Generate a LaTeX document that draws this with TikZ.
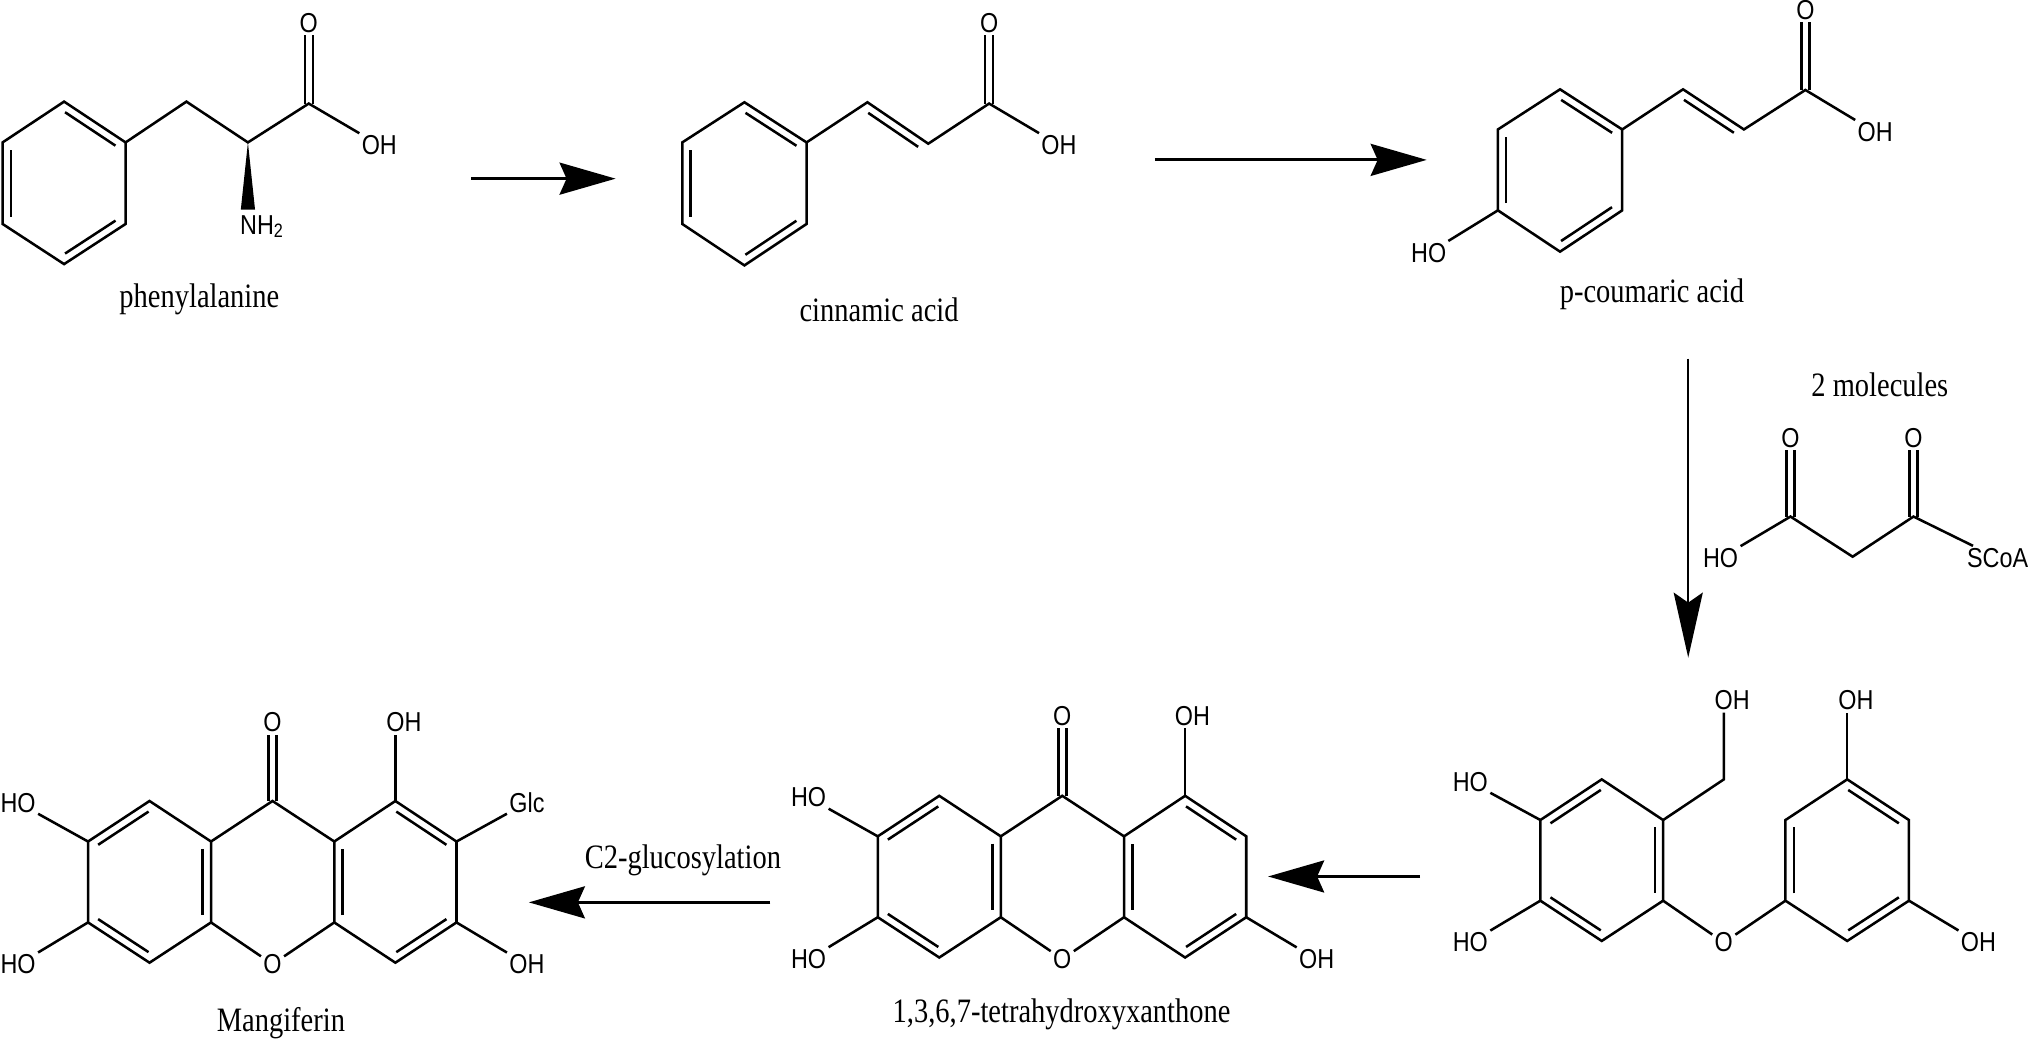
\documentclass[tikz,border=0pt]{standalone}
\usepackage{graphicx}
\usepackage{fontspec}
\setmainfont{Liberation Serif}
\setsansfont{Liberation Sans}
\usetikzlibrary{calc,arrows.meta}
\newcommand{\A}[1]{\scalebox{1}[1.17]{\fontsize{6.65pt}{7pt}\selectfont\sffamily #1}}
\newcommand{\Nsub}{\A{NH}\raisebox{-1.1pt}{\scalebox{1}[1.2]{\fontsize{4.6pt}{5pt}\selectfont\sffamily 2}}}
\newcommand{\T}[1]{\scalebox{1}[1.2]{\fontsize{8.1pt}{9pt}\selectfont\rmfamily #1}}
% inner line of a double bond; #3 is +90 (left of a->b) or -90 (right)
\newcommand{\inner}[3]{\draw[bond] ($(#1)!.09!(#2)!.083cm!#3:(#2)$) -- ($(#2)!.09!(#1)!.083cm!-#3:(#1)$);}
\newcommand{\cdbl}[2]{\draw[bond,transform canvas={xshift=-.04cm}] (#1) -- (#2);\draw[bond,transform canvas={xshift=.04cm}] (#1) -- (#2);}
\newcommand{\hex}[7]{%
  \coordinate (#1a) at (#2,#4);\coordinate (#1b) at (#3,#5);\coordinate (#1c) at (#3,#6);
  \coordinate (#1d) at (#2,#7);\coordinate (#1e) at ({2*#2-#3},#6);\coordinate (#1f) at ({2*#2-#3},#5);
  \draw[bond] (#1a)--(#1b)--(#1c)--(#1d)--(#1e)--(#1f)--cycle;}
\tikzset{
  bond/.style={line width=.72pt,line join=miter,line cap=butt},
  atom/.style={inner sep=.5pt},
  caption/.style={inner sep=0pt},
  rxn/.style={line width=.8pt,-{Stealth[length=.56cm,width=.32cm,inset=.07cm]}},
  rxnlong/.style={line width=.7pt,-{Stealth[length=.65cm,width=.29cm,inset=.1cm]}},
}
\begin{document}
\begin{tikzpicture}[x=.012946cm,y=-.012946cm]
\useasboundingbox (0,0) rectangle (1568,802.6);
\fill[white] (0,0) rectangle (1568,802.6);

% --- phenylalanine
\hex{p}{49.5}{97}{78.5}{110}{173}{204}
\inner{pa}{pb}{-90}\inner{pc}{pd}{-90}\inner{pe}{pf}{-90}
\coordinate (p1) at (144,78.5);\coordinate (p2) at (191.5,110);\coordinate (p3) at (238.5,80);
\coordinate (pw1) at (186,162);\coordinate (pw2) at (197,162);
\node[atom] (pO) at (238.5,18) {\A{O}};
\node[atom] (pOH) at (293,112) {\A{OH}};
\node[atom] (pN) at (202,175) {\Nsub};
\draw[bond] (pb)--(p1)--(p2)--(p3)--(pOH);
\cdbl{p3}{pO}
\fill (p2)--(pw1)--(pw2)--cycle;
\node[caption] (pcap) at (154,231) {\T{phenylalanine}};

\coordinate (r1s) at (364,138);\coordinate (r1e) at (475.5,138);
\draw[rxn] (r1s)--(r1e);

% --- cinnamic acid
\hex{c}{575}{623}{79}{110}{173}{205}
\inner{ca}{cb}{-90}\inner{cc}{cd}{-90}\inner{ce}{cf}{-90}
\coordinate (c1) at (670,79);\coordinate (c2) at (717,111);\coordinate (c3) at (764,80);
\node[atom] (cO) at (764,18) {\A{O}};
\node[atom] (cOH) at (818,112) {\A{OH}};
\draw[bond] (cb)--(c1)--(c2)--(c3)--(cOH);
\inner{c1}{c2}{-90}
\cdbl{c3}{cO}
\node[caption] (ccap) at (679,239.5) {\T{cinnamic acid}};

\coordinate (r2s) at (892,123.5);\coordinate (r2e) at (1102,123.5);
\draw[rxn] (r2s)--(r2e);

% --- p-coumaric acid
\hex{m}{1205}{1253}{69}{100}{162.5}{194.4}
\inner{ma}{mb}{-90}\inner{mc}{md}{-90}\inner{me}{mf}{-90}
\coordinate (m1) at (1300,69);\coordinate (m2) at (1347,100);\coordinate (m3) at (1394.5,69.5);
\node[atom] (mO) at (1394.5,8) {\A{O}};
\node[atom] (mOH) at (1448.4,102) {\A{OH}};
\node[atom] (mHO) at (1103.5,195.5) {\A{HO}};
\draw[bond] (mb)--(m1)--(m2)--(m3)--(mOH);
\draw[bond] (me)--(mHO);
\inner{m1}{m2}{-90}
\cdbl{m3}{mO}
\node[caption] (mcap) at (1276,227.5) {\T{p-coumaric acid}};

\coordinate (r3s) at (1304,277);\coordinate (r3e) at (1304,508);
\draw[rxnlong] (r3s)--(r3e);

\node[caption] (twom) at (1452,297.5) {\T{2 molecules}};

% --- malonyl-CoA
\coordinate (s1) at (1383,399);\coordinate (s2) at (1431,430);\coordinate (s3) at (1478,399);
\node[atom] (sO1) at (1383,338) {\A{O}};
\node[atom] (sO2) at (1478,338) {\A{O}};
\node[atom] (sHO) at (1329,431) {\A{HO}};
\node[atom] (sCoA) at (1543,431) {\A{SCoA}};
\draw[bond] (sHO)--(s1)--(s2)--(s3)--(sCoA);
\cdbl{s1}{sO1}\cdbl{s3}{sO2}

% --- diaryl ether intermediate
\hex{l}{1237.2}{1284.6}{602}{633.4}{695.7}{726.8}
\inner{lb}{lc}{-90}\inner{ld}{le}{-90}\inner{lf}{la}{-90}
\hex{q}{1426.8}{1474.5}{602}{633.4}{695.7}{726.8}
\inner{qa}{qb}{-90}\inner{qc}{qd}{-90}\inner{qe}{qf}{-90}
\coordinate (l1) at (1331.5,602);
\node[atom] (lOH) at (1338,541) {\A{OH}};
\node[atom] (lO) at (1331.5,728) {\A{O}};
\node[atom] (qOH1) at (1433.6,541) {\A{OH}};
\node[atom] (qOH2) at (1528.2,728) {\A{OH}};
\node[atom] (lHO1) at (1135.7,604) {\A{HO}};
\node[atom] (lHO2) at (1135.7,728) {\A{HO}};
\draw[bond] (lb)--(l1)--(l1|-lOH.south);
\draw[bond] (lc)--(lO)--(qe);
\draw[bond] (qa)--(qa|-qOH1.south);
\draw[bond] (qc)--(qOH2);
\draw[bond] (lf)--(lHO1);
\draw[bond] (le)--(lHO2);

\coordinate (r4s) at (1097,677);\coordinate (r4e) at (979.5,677);
\draw[rxn] (r4s)--(r4e);

% --- 1,3,6,7-tetrahydroxyxanthone
\hex{t}{725.5}{773}{614.7}{646}{708.5}{739.6}
\hex{u}{915.4}{962.6}{614.7}{646}{708.5}{739.6}
\inner{tb}{tc}{-90}\inner{td}{te}{-90}\inner{tf}{ta}{-90}
\inner{ua}{ub}{-90}\inner{uc}{ud}{-90}\inner{ue}{uf}{-90}
\coordinate (t1) at (820.5,614.7);
\node[atom] (tO) at (820.5,553) {\A{O}};
\node[atom] (tX) at (820.5,740.7) {\A{O}};
\node[atom] (tOH1) at (921,553) {\A{OH}};
\node[atom] (tOH2) at (1017,741) {\A{OH}};
\node[atom] (tHO1) at (624.6,616) {\A{HO}};
\node[atom] (tHO2) at (624.6,741) {\A{HO}};
\draw[bond] (tb)--(t1)--(uf);
\draw[bond] (tc)--(tX)--(ue);
\cdbl{t1}{tO}
\draw[bond] (ua)--(ua|-tOH1.south);
\draw[bond] (uc)--(tOH2);
\draw[bond] (tf)--(tHO1);
\draw[bond] (te)--(tHO2);
\node[caption] (tcap) at (820,783.5) {\T{1,3,6,7-tetrahydroxyxanthone}};

\coordinate (r5s) at (595,697);\coordinate (r5e) at (408.5,697);
\draw[rxn] (r5s)--(r5e);
\node[caption] (r5l) at (527.5,664.5) {\T{C2-glucosylation}};

% --- mangiferin
\hex{g}{115.5}{163}{618.7}{650}{712.5}{743.6}
\hex{h}{305.4}{352.6}{618.7}{650}{712.5}{743.6}
\inner{gb}{gc}{-90}\inner{gd}{ge}{-90}\inner{gf}{ga}{-90}
\inner{ha}{hb}{-90}\inner{hc}{hd}{-90}\inner{he}{hf}{-90}
\coordinate (g1) at (210.5,618.7);
\node[atom] (gO) at (210.5,558) {\A{O}};
\node[atom] (gX) at (210.5,744.7) {\A{O}};
\node[atom] (gOH1) at (312,558) {\A{OH}};
\node[atom] (gGlc) at (407,620) {\A{Glc}};
\node[atom] (gOH2) at (407,745) {\A{OH}};
\node[atom] (gHO1) at (14,620) {\A{HO}};
\node[atom] (gHO2) at (14,745) {\A{HO}};
\draw[bond] (gb)--(g1)--(hf);
\draw[bond] (gc)--(gX)--(he);
\cdbl{g1}{gO}
\draw[bond] (ha)--(ha|-gOH1.south);
\draw[bond] (hb)--(gGlc);
\draw[bond] (hc)--(gOH2);
\draw[bond] (gf)--(gHO1);
\draw[bond] (ge)--(gHO2);
\node[caption] (gcap) at (217,790.5) {\T{Mangiferin}};
\end{tikzpicture}
\end{document}
